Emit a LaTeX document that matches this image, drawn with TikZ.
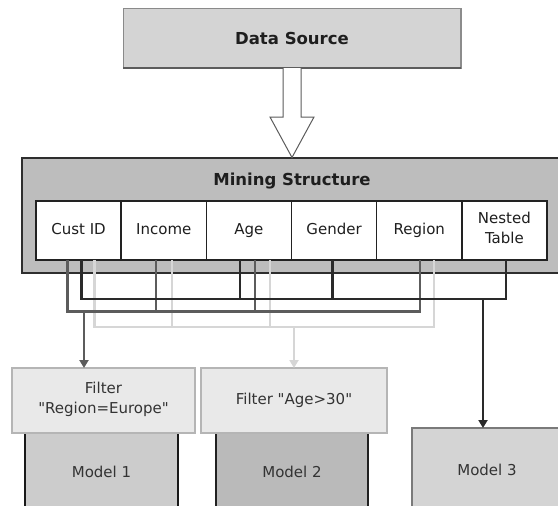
\documentclass[tikz,border=0pt]{standalone}
\usepackage{fontspec}
\setmainfont{DejaVu Sans}
\usetikzlibrary{arrows.meta}

\definecolor{srcfill}{HTML}{D4D4D4}
\definecolor{srcline}{HTML}{8A8A8A}
\definecolor{structfill}{HTML}{BDBDBD}
\definecolor{structline}{HTML}{2E2E2E}
\definecolor{fieldline}{HTML}{222222}
\definecolor{filterfill}{HTML}{E9E9E9}
\definecolor{filterline}{HTML}{B5B5B5}
\definecolor{textdark}{HTML}{1E1E1E}
\definecolor{textgray}{HTML}{333333}
\definecolor{linkdark}{HTML}{2A2A2A}
\definecolor{linkmid}{HTML}{5C5C5C}
\definecolor{linklight}{HTML}{D6D6D6}

\begin{document}
\begin{tikzpicture}[
	x=1pt, y=-1pt,
	>={Triangle[width=9pt,length=8pt]},
	box/.style={draw, inner sep=0pt, outer sep=0pt, align=center,
		font=\fontsize{15}{20}\selectfont, execute at begin node=\strut},
	field/.style={box, fill=white, draw=fieldline, line width=1.5pt,
		minimum width=85.17pt, minimum height=59pt, text=textdark},
	filterbox/.style={box, fill=filterfill, draw=filterline, line width=1.5pt,
		minimum height=65pt, text=textgray},
	modelbox/.style={box, line width=1.5pt, text=textgray},
	title/.style={font=\fontsize{16.5}{20}\selectfont\bfseries, text=textdark},
	linkA/.style={draw=linkmid, line width=2.4pt},
	linkB/.style={draw=linklight, line width=2.4pt},
	linkC/.style={draw=linkdark, line width=2.4pt}
	]
	\useasboundingbox (0,0) rectangle (558,506);

	% source and mining structure
	\node[box, fill=srcfill, draw=srcline, line width=1pt,
		minimum width=338pt, minimum height=60pt] (datasrc) at (292,38) {};
	\node[title] at (datasrc) {Data Source};
	\draw[line width=2pt, draw=black!45] (datasrc.north east) -- (datasrc.south east);
	\draw[line width=2.5pt, draw=linkmid] (datasrc.south west) -- (datasrc.south east);

	\node[box, fill=structfill, draw=structline, line width=1.8pt,
		minimum width=570pt, minimum height=115pt] (mining) at (307,215.5) {};
	\node[title] (mtitle) at (292,181) {Mining Structure};

	% hollow arrow down into the structure
	\draw[fill=white, draw=linkmid, line width=1pt]
		([xshift=-9pt]datasrc.south) -- ++(0,49) -- ++(-13,0) -- (292,157.5)
		-- ++(22,-40.5) -- ++(-13,0) -- ([xshift=9pt]datasrc.south);

	% columns
	\foreach \n/\t [count=\i] in {custid/Cust ID, income/Income, age/Age,
		gender/Gender, region/Region, nested/{Nested\\Table}}
		\node[field] (\n) at ({36+85.17*(\i-0.5)},230.5) {\t};

	% models and filters
	\node[modelbox, fill=black!20, draw=black!90,
		minimum width=153pt, minimum height=80pt] (modelA) at (101.5,473) {Model 1};
	\node[modelbox, fill=black!27, draw=black!87,
		minimum width=152pt, minimum height=80pt] (modelB) at (292,473) {Model 2};
	\node[modelbox, fill=black!17, draw=black!52,
		minimum width=150pt, minimum height=86pt] (modelC) at (487,471) {Model 3};

	\node[filterbox, minimum width=183pt] (filtA) at (103.5,400.5)
		{Filter\\\textquotedbl Region=Europe\textquotedbl};
	\node[filterbox, minimum width=186pt] (filtB) at (294,400.5)
		{Filter \textquotedbl Age>30\textquotedbl};

	% column links
	\coordinate (busA) at (84,311.5);
	\coordinate (busB) at (294,327);
	\coordinate (busC) at (483,299);

	\foreach \f/\dx in {custid/16, income/8.5, age/21, region/14.5}
		\draw[linkB] ([xshift=\dx pt]\f.south) |- (busB);
	\foreach \f/\dx in {custid/-11, income/-8, age/6, region/1}
		\draw[linkA] ([xshift=\dx pt]\f.south) |- (busA);
	\foreach \f/\dx in {custid/3, age/-9, gender/-1.5, nested/1.5}
		\draw[linkC] ([xshift=\dx pt]\f.south) |- (busC);

	\draw[linkA, line width=2pt, ->] (busA) -- (busA |- filtA.north);
	\draw[linkB, line width=2pt, ->] (busB) -- (busB |- filtB.north);
	\draw[linkC, line width=2pt, ->] (busC) -- (busC |- modelC.north);
\end{tikzpicture}
\end{document}
